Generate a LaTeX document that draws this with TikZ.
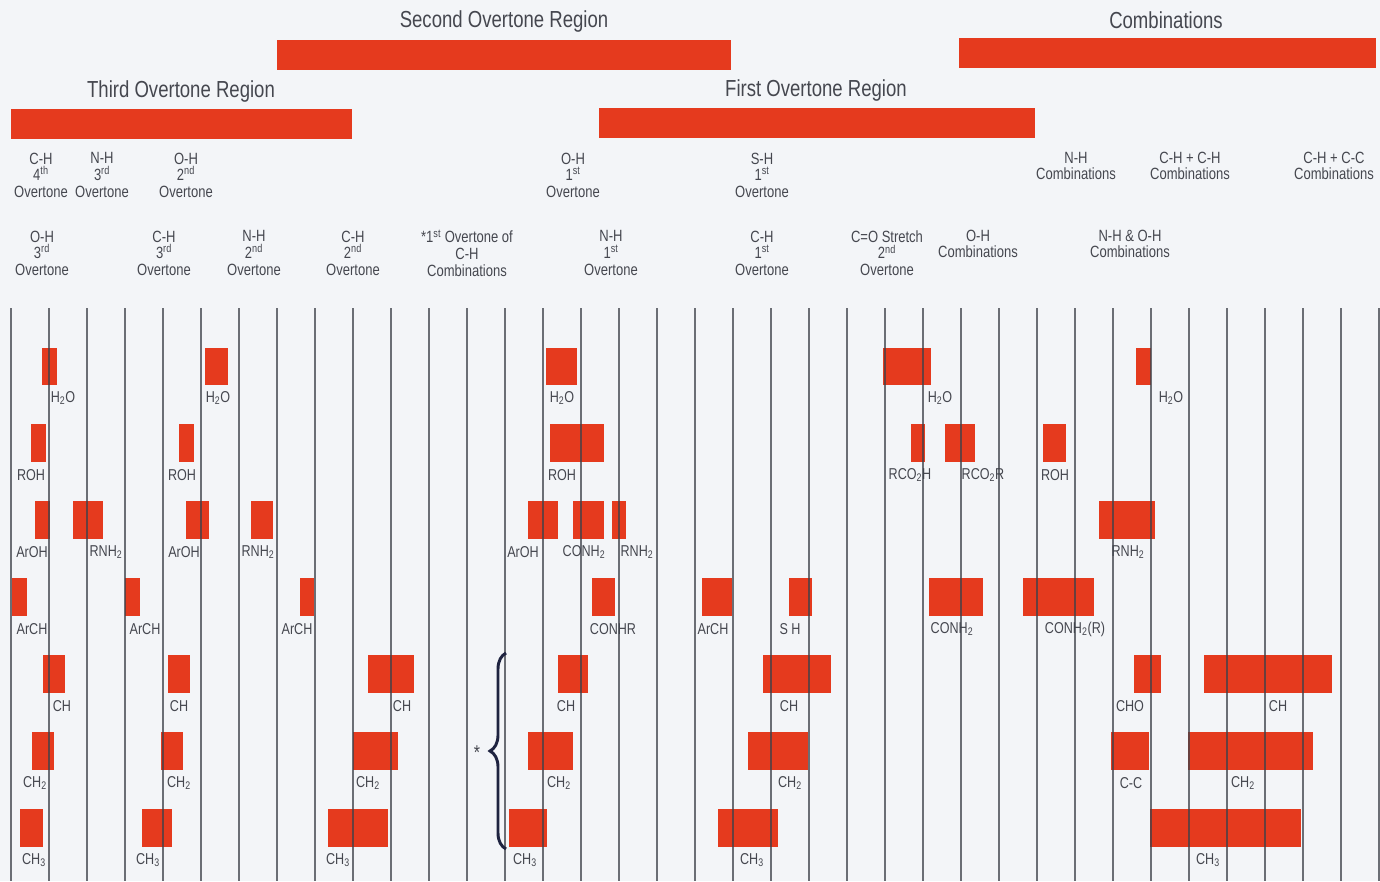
\documentclass[tikz,border=0pt]{standalone}
\usepackage{fontspec}
\newfontfamily\cond[FakeStretch=0.8]{Liberation Sans}
\usetikzlibrary{decorations.pathreplacing}

\begin{document}
\begin{tikzpicture}[
    x=0.75pt, y=-0.75pt,
    band/.style={fill=cbar},
    grid/.style={draw=cline, line width=1.1pt, draw opacity=0.75},
    title/.style={font=\cond\fontsize{17.4}{20}\selectfont, text=ctext, inner sep=0pt},
    hdr/.style={font=\cond\fontsize{12.2}{12.4}\selectfont, text=ctext, align=center, inner sep=0pt},
    lbl/.style={font=\cond\fontsize{11.8}{13}\selectfont, text=ctext, inner sep=0pt},
    brace/.style={decorate, decoration={brace, amplitude=12pt}, draw=cbrace, line width=2.2pt},
]
% ---- Colours ----
\definecolor{cpaper}{HTML}{F3F5F8}   % page
\definecolor{cbar}{HTML}{E53A1E}     % absorption bands
\definecolor{cline}{HTML}{3E424A}    % grid lines
\definecolor{ctext}{HTML}{45474F}    % all texts
\definecolor{cbrace}{HTML}{1E2340}   % brace
\fill[cpaper] (0,0) rectangle (1380,881);
\useasboundingbox (0,0) rectangle (1380,881);

% ---- Region bars and titles ----
\fill[band] (277,40) rectangle (731,70);
\fill[band] (959,38) rectangle (1376,68);
\fill[band] (11,109) rectangle (352,139);
\fill[band] (599,108) rectangle (1035,138);
\node[title] (second) at (504,22)  {Second Overtone Region};
\node[title] (comb)   at (1166,20) {Combinations};
\node[title] (third)  at (181,92)  {Third Overtone Region};
\node[title] (first)  at (816,91)  {First Overtone Region};

% ---- Upper row of band headings ----
\node[hdr] (chF)  at (41,175)   {C-H\\4\textsuperscript{th}\\Overtone};
\node[hdr] (nhT)  at (102,175)  {N-H\\3\textsuperscript{rd}\\Overtone};
\node[hdr] (ohS)  at (186,175)  {O-H\\2\textsuperscript{nd}\\Overtone};
\node[hdr] (ohF)  at (573,175)  {O-H\\1\textsuperscript{st}\\Overtone};
\node[hdr] (shF)  at (762,175)  {S-H\\1\textsuperscript{st}\\Overtone};
\node[hdr] (nhC)  at (1076,166) {N-H\\Combinations};
\node[hdr] (chch) at (1190,166) {C-H + C-H\\Combinations};
\node[hdr] (chcc) at (1334,166) {C-H + C-C\\Combinations};

% ---- Lower row of band headings ----
\node[hdr] (ohT)  at (42,253)   {O-H\\3\textsuperscript{rd}\\Overtone};
\node[hdr] (chT)  at (164,253)  {C-H\\3\textsuperscript{rd}\\Overtone};
\node[hdr] (nhS)  at (254,253)  {N-H\\2\textsuperscript{nd}\\Overtone};
\node[hdr] (chS)  at (353,253)  {C-H\\2\textsuperscript{nd}\\Overtone};
\node[hdr] (chFC) at (467,253)  {*1\textsuperscript{st} Overtone of\\C-H\\Combinations};
\node[hdr] (nhF)  at (611,253)  {N-H\\1\textsuperscript{st}\\Overtone};
\node[hdr] (chFo) at (762,253)  {C-H\\1\textsuperscript{st}\\Overtone};
\node[hdr] (coS)  at (887,253)  {C=O Stretch\\2\textsuperscript{nd}\\Overtone};
\node[hdr] (ohC)  at (978,244)  {O-H\\Combinations};
\node[hdr] (nhoh) at (1130,244) {N-H \& O-H\\Combinations};

% ---- Row 1: H2O ----
\fill[band] (42,348) rectangle (57,385);
\fill[band] (205,348) rectangle (228,385);
\fill[band] (546,348) rectangle (577,385);
\fill[band] (883,348) rectangle (931,385);
\fill[band] (1136,348) rectangle (1151,385);
\node[lbl] (waterA) at (63,398)   {H\textsubscript{2}O};
\node[lbl] (waterB) at (218,398)  {H\textsubscript{2}O};
\node[lbl] (waterC) at (562,398)  {H\textsubscript{2}O};
\node[lbl] (waterD) at (940,398)  {H\textsubscript{2}O};
\node[lbl] (waterE) at (1171,398) {H\textsubscript{2}O};

% ---- Row 2: alcohols, acids, esters ----
\fill[band] (31,424) rectangle (46,462);
\fill[band] (179,424) rectangle (194,462);
\fill[band] (550,424) rectangle (604,462);
\fill[band] (911,424) rectangle (925,462);
\fill[band] (945,424) rectangle (975,462);
\fill[band] (1043,424) rectangle (1066,462);
\node[lbl] (rohA)  at (31,475)   {ROH};
\node[lbl] (rohB)  at (182,475)  {ROH};
\node[lbl] (rohC)  at (562,475)  {ROH};
\node[lbl] (acid)  at (910,475)  {RCO\textsubscript{2}H};
\node[lbl] (ester) at (983,475)  {RCO\textsubscript{2}R};
\node[lbl] (rohD)  at (1055,475) {ROH};

% ---- Row 3: phenols, amines, amides ----
\fill[band] (35,501) rectangle (50,539);
\fill[band] (73,501) rectangle (103,539);
\fill[band] (186,501) rectangle (209,539);
\fill[band] (251,501) rectangle (273,539);
\fill[band] (528,501) rectangle (558,539);
\fill[band] (573,501) rectangle (604,539);
\fill[band] (612,501) rectangle (626,539);
\fill[band] (1099,501) rectangle (1155,539);
\node[lbl] (arohA)  at (32,552)   {ArOH};
\node[lbl] (rnhA)   at (106,552)  {RNH\textsubscript{2}};
\node[lbl] (arohB)  at (184,552)  {ArOH};
\node[lbl] (rnhB)   at (258,552)  {RNH\textsubscript{2}};
\node[lbl] (arohC)  at (523,552)  {ArOH};
\node[lbl] (amideA) at (584,552)  {CONH\textsubscript{2}};
\node[lbl] (rnhC)   at (637,552)  {RNH\textsubscript{2}};
\node[lbl] (rnhD)   at (1128,552) {RNH\textsubscript{2}};

% ---- Row 4: aromatics, thiols, amides ----
\fill[band] (12,578) rectangle (27,616);
\fill[band] (125,578) rectangle (140,616);
\fill[band] (300,578) rectangle (314,616);
\fill[band] (592,578) rectangle (615,616);
\fill[band] (702,578) rectangle (732,616);
\fill[band] (789,578) rectangle (812,616);
\fill[band] (929,578) rectangle (983,616);
\fill[band] (1023,578) rectangle (1094,616);
\node[lbl] (archA)  at (32,629)   {ArCH};
\node[lbl] (archB)  at (145,629)  {ArCH};
\node[lbl] (archC)  at (297,629)  {ArCH};
\node[lbl] (amideB) at (613,629)  {CONHR};
\node[lbl] (archD)  at (713,629)  {ArCH};
\node[lbl] (thiol)  at (790,629)  {S H};
\node[lbl] (amideC) at (952,629)  {CONH\textsubscript{2}};
\node[lbl] (amideD) at (1075,629) {CONH\textsubscript{2}(R)};

% ---- Row 5: CH ----
\fill[band] (43,655) rectangle (65,693);
\fill[band] (168,655) rectangle (190,693);
\fill[band] (368,655) rectangle (414,693);
\fill[band] (558,655) rectangle (588,693);
\fill[band] (763,655) rectangle (831,693);
\fill[band] (1134,655) rectangle (1161,693);
\fill[band] (1204,655) rectangle (1332,693);
\node[lbl] (chA) at (62,706)   {CH};
\node[lbl] (chB) at (179,706)  {CH};
\node[lbl] (chC) at (402,706)  {CH};
\node[lbl] (chD) at (566,706)  {CH};
\node[lbl] (chE) at (789,706)  {CH};
\node[lbl] (cho) at (1130,706) {CHO};
\node[lbl] (chG) at (1278,706) {CH};

% ---- Row 6: CH2 ----
\fill[band] (32,732) rectangle (54,770);
\fill[band] (161,732) rectangle (183,770);
\fill[band] (353,732) rectangle (398,770);
\fill[band] (528,732) rectangle (573,770);
\fill[band] (748,732) rectangle (808,770);
\fill[band] (1111,732) rectangle (1149,770);
\fill[band] (1188,732) rectangle (1313,770);
\node[lbl] (chtA) at (35,783)   {CH\textsubscript{2}};
\node[lbl] (chtB) at (179,783)  {CH\textsubscript{2}};
\node[lbl] (chtC) at (368,783)  {CH\textsubscript{2}};
\node[lbl] (chtD) at (559,783)  {CH\textsubscript{2}};
\node[lbl] (chtE) at (790,783)  {CH\textsubscript{2}};
\node[lbl] (cc)   at (1131,783) {C-C};
\node[lbl] (chtG) at (1243,783) {CH\textsubscript{2}};

% ---- Row 7: CH3 ----
\fill[band] (20,809) rectangle (43,847);
\fill[band] (142,809) rectangle (172,847);
\fill[band] (328,809) rectangle (388,847);
\fill[band] (509,809) rectangle (547,847);
\fill[band] (718,809) rectangle (778,847);
\fill[band] (1150,809) rectangle (1301,847);
\node[lbl] (methA) at (34,860)   {CH\textsubscript{3}};
\node[lbl] (methB) at (148,860)  {CH\textsubscript{3}};
\node[lbl] (methC) at (338,860)  {CH\textsubscript{3}};
\node[lbl] (methD) at (525,860)  {CH\textsubscript{3}};
\node[lbl] (methE) at (752,860)  {CH\textsubscript{3}};
\node[lbl] (methF) at (1208,860) {CH\textsubscript{3}};

% ---- Wavelength grid ----
\foreach \k in {0,...,36}
    \draw[grid] ({11+38*\k},308) -- ({11+38*\k},881);

% ---- Brace for the C-H combination bands ----
\coordinate (braceBot) at (506,849);
\coordinate (braceTop) at (506,653);
\draw[brace] (braceBot) -- (braceTop);
\node[lbl, font=\cond\fontsize{15}{15}\selectfont] (star) at (477,753) {*};
\end{tikzpicture}
\end{document}
